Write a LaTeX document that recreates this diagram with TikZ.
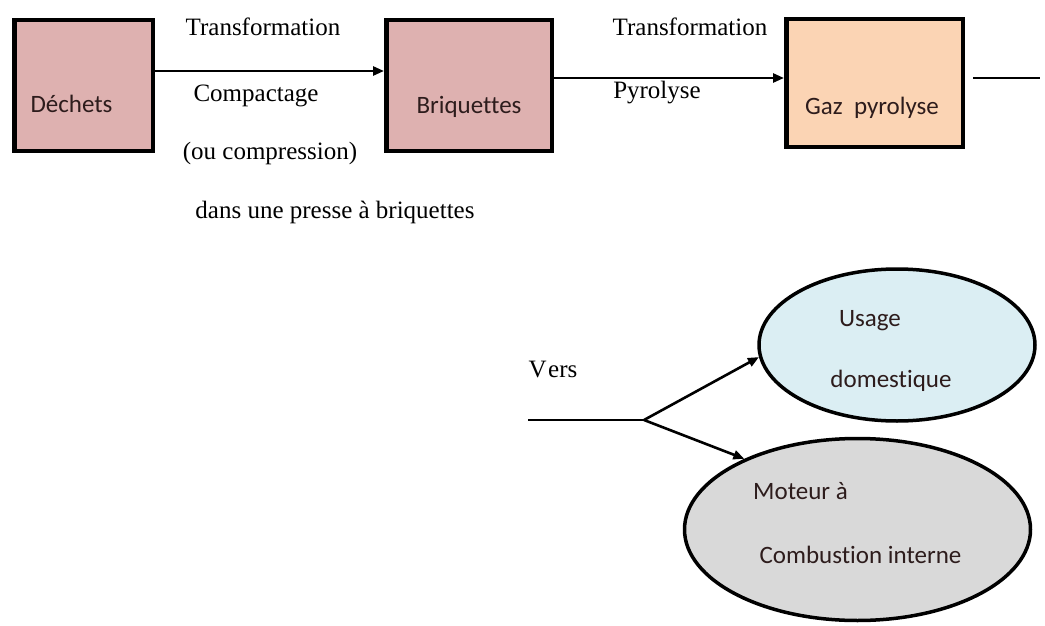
\documentclass[tikz,border=0pt]{standalone}
\usepackage{fontspec}
\setmainfont{Liberation Serif}
\newfontfamily\calib[Ligatures=NoCommon]{Carlito}
\usetikzlibrary{shapes.geometric,arrows.meta}
\definecolor{pinkbox}{RGB}{222,177,176}
\definecolor{peachbox}{RGB}{251,212,180}
\definecolor{bluell}{RGB}{219,238,243}
\definecolor{greyll}{RGB}{217,217,217}
\definecolor{boxtext}{RGB}{45,28,28}
\begin{document}
\begin{tikzpicture}[x=1pt,y=-1pt,
  stepbox/.style={draw=black,line width=4.5pt,rectangle,inner sep=0pt},
  boxlbl/.style={font=\calib\fontsize{25}{30}\selectfont,text=boxtext,inner sep=0pt},
  serlbl/.style={font=\fontsize{25}{30}\selectfont,text=black,inner sep=0pt},
  oval/.style={draw=black,line width=3.5pt,ellipse,inner sep=0pt},
  arr/.style={line width=2.6pt,-{Triangle[length=11pt,width=9pt]}},
  plainline/.style={line width=2.6pt}]
\useasboundingbox (0,0) rectangle (1045,626);
% boxes
\node[stepbox,fill=pinkbox,minimum width=138.5pt,minimum height=130.5pt,
  label={[boxlbl,xshift=-12pt,yshift=-18.5pt]center:Déchets}] (dech) at (83.5,85.5) {};
\node[stepbox,fill=pinkbox,minimum width=165.5pt,minimum height=130.5pt,
  label={[boxlbl,yshift=-21.5pt]center:Briquettes}] (briq) at (469,85.5) {};
\node[stepbox,fill=peachbox,minimum width=176.5pt,minimum height=127.5pt,
  label={[boxlbl,xshift=-2.5pt,yshift=-25pt]center:Gaz\ \ pyrolyse}] (gaz) at (874.5,83) {};
% connectors top
\draw[arr] ([yshift=14.5pt]dech.east) -- ([yshift=14.5pt]briq.west);
\draw[arr] ([yshift=7.5pt]briq.east) -- ([yshift=5pt]gaz.west);
\coordinate (gout) at (1040,78);
\draw[plainline] ([xshift=8pt,yshift=5pt]gaz.east) -- (gout);
% serif labels
\node[serlbl] (tr1) at (263,27) {Transformation};
\node[serlbl] (comp) at (256,96) {Compactage};
\node[serlbl] (ouc) at (270,153) {(ou compression)};
\node[serlbl] (dans) at (335,212) {dans une presse à briquettes};
\node[serlbl] (tr2) at (690,27) {Transformation};
\node[serlbl] (pyr) at (657,93) {Pyrolyse};
\node[serlbl] (vers) at (553,370) {V\kern1.5pt ers};
% ellipses
\node[oval,fill=bluell,minimum width=276pt,minimum height=152pt,
  label={[boxlbl,xshift=-27pt,yshift=24pt]center:Usage},
  label={[boxlbl,xshift=-6pt,yshift=-36pt]center:domestique}] (usage) at (897,345) {};
\node[oval,fill=greyll,minimum width=346pt,minimum height=182pt,
  label={[boxlbl,xshift=-57pt,yshift=38.5pt]center:Moteur à},
  label={[boxlbl,xshift=3pt,yshift=-25.5pt]center:Combustion interne}] (moteur) at (857.5,529.5) {};
% bottom connectors
\coordinate (vin) at (528,420);
\coordinate (split) at (644,420);
\draw[plainline] (vin) -- (split);
\draw[arr] (split) -- (usage.185);
\draw[arr] (split) -- (moteur.148);
\end{tikzpicture}
\end{document}
